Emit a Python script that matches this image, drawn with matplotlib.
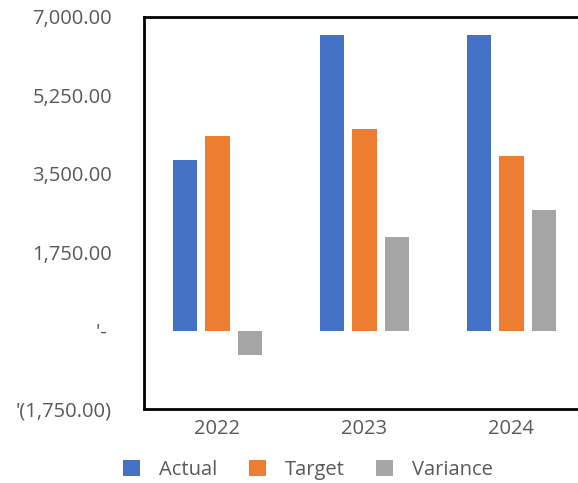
import numpy as np
import matplotlib.pyplot as plt

years = ["2022", "2023", "2024"]
actual = [3800, 6600, 6600]
target = [4350, 4500, 3900]
variance = [-550, 2100, 2700]

yticks = [-1750, 0, 1750, 3500, 5250, 7000]
ytick_labels = ["'(1,750.00)", "'- ", "1,750.00", "3,500.00", "5,250.00", "7,000.00"]

plt.rcParams["font.family"] = ["Open Sans", "DejaVu Sans"]

fig = plt.figure(figsize=(5.78, 4.83), dpi=100)
ax = fig.add_axes([0.249, 0.153, 0.763, 0.812])

x = np.arange(len(years))
w = 0.165
step = 0.22
ax.bar(x - step, actual, w, color="#4472C4", label="Actual")
ax.bar(x, target, w, color="#ED7D31", label="Target")
ax.bar(x + step, variance, w, color="#A5A5A5", label="Variance")

ax.set_xlim(-0.5, 2.5)
ax.set_ylim(-1750, 7000)
ax.set_xticks(x)
ax.set_xticklabels(years)
ax.set_yticks(yticks)
ax.set_yticklabels(ytick_labels)
ax.tick_params(axis="both", length=0, labelsize=14.5, labelcolor="#595959")
ax.tick_params(axis="y", pad=23)
ax.tick_params(axis="x", pad=7)

for side in ["left", "top", "bottom"]:
    ax.spines[side].set_linewidth(2)
    ax.spines[side].set_color("black")
ax.spines["right"].set_visible(False)

fig.legend(loc="lower center", bbox_to_anchor=(0.533, -0.032), ncol=3, frameon=False,
           fontsize=14.5, labelcolor="#595959", handlelength=0.85, handleheight=0.85,
           columnspacing=1.55, handletextpad=0.95)

fig.savefig("out.png", dpi=100)
